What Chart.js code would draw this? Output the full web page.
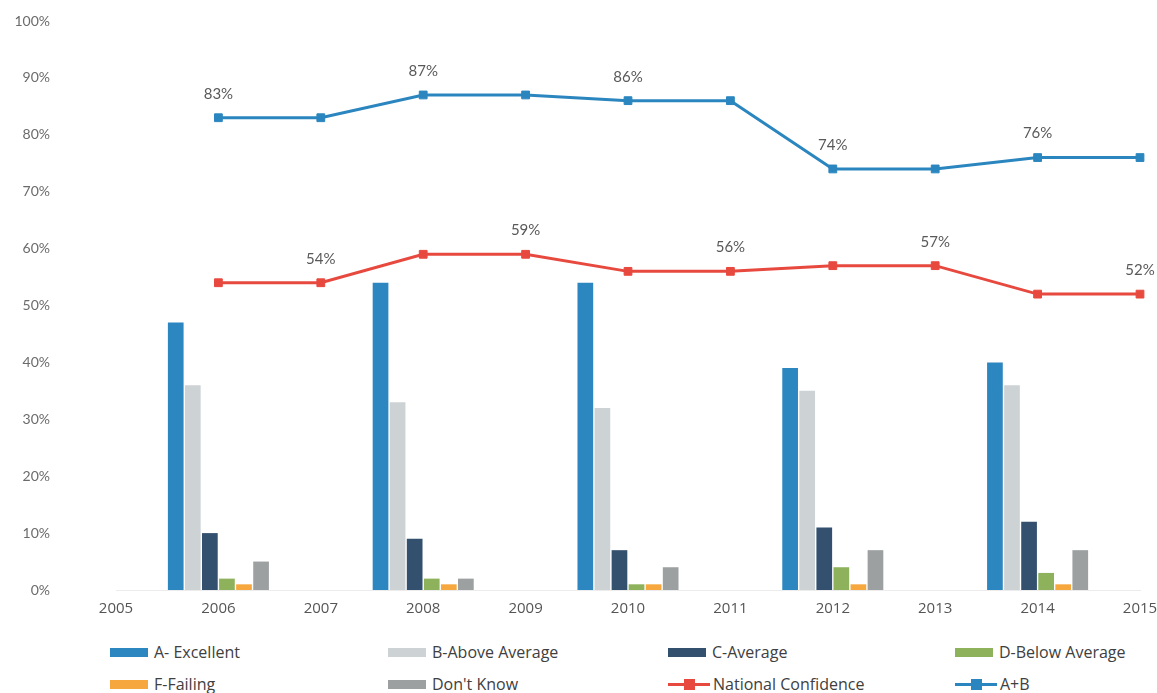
<!DOCTYPE html>
<html>
<head>
<meta charset="utf-8">
<script src="https://cdn.jsdelivr.net/npm/chart.js@4.4.1/dist/chart.umd.min.js"></script>
<style>
  html, body { margin: 0; padding: 0; background: #fff; }
  #wrap { position: relative; width: 1157px; height: 693px; }
  #chart { position: absolute; left: 0; top: 0; }
  #legend { position: absolute; left: 110px; top: 640px; font-family: "Open Sans", Lato, sans-serif; font-size: 16px; color: #404040; }
  .item { position: absolute; white-space: nowrap; height: 20px; line-height: 20px; }
  .box { display: inline-block; width: 38px; height: 9px; vertical-align: middle; margin-right: 6px; margin-top: -3px; }
  .ln { display: inline-block; position: relative; width: 42px; height: 20px; vertical-align: middle; margin-right: 3px; margin-top: -3px; }
  .ln i { position: absolute; left: 0; right: 0; top: 9px; height: 3px; }
  .ln b { position: absolute; left: 16px; top: 5px; width: 11px; height: 11px; }
</style>
</head>
<body>
<div id="wrap">
  <canvas id="chart" width="1157" height="630"></canvas>
  <div id="legend"></div>
</div>
<script>
// du lieu
var years = ['2005', '2006', '2007', '2008', '2009', '2010', '2011', '2012', '2013', '2014', '2015'];
var excellent    = [null, 47, null, 54, null, 54, null, 39, null, 40, null];
var aboveAverage = [null, 36, null, 33, null, 32, null, 35, null, 36, null];
var average      = [null, 10, null, 9, null, 7, null, 11, null, 12, null];
var belowAverage = [null, 2, null, 2, null, 1, null, 4, null, 3, null];
var failing      = [null, 1, null, 1, null, 1, null, 1, null, 1, null];
var dontKnow     = [null, 5, null, 2, null, 4, null, 7, null, 7, null];
var nationalConfidence = [null, 54, 54, 59, 59, 56, 56, 57, 57, 52, 52];
var aPlusB             = [null, 83, 83, 87, 87, 86, 86, 74, 74, 76, 76];
// nhan hien thi tren cac diem
var ncLabelAt = [2, 4, 6, 8, 10];
var abLabelAt = [1, 3, 5, 7, 9];
var yTicks = [0, 10, 20, 30, 40, 50, 60, 70, 80, 90, 100];

var blue = '#2b86bf';
var red = '#e8493f';

function bar(label, data, color) {
    return { type: 'bar', label: label, data: data, backgroundColor: color,
             categoryPercentage: 1.0, barPercentage: 0.92, order: 2 };
}
function line(label, data, color, labelAt) {
    return { type: 'line', label: label, data: data, borderColor: color, backgroundColor: color,
             borderWidth: 3, pointStyle: 'rect', pointRadius: 5.5, pointBorderWidth: 1,
             pointBorderColor: color, tension: 0, order: 1, labelAt: labelAt };
}

var datasets = [
    bar('A- Excellent', excellent, '#2c86c0'),
    bar('B-Above Average', aboveAverage, '#cdd2d5'),
    bar('C-Average', average, '#33506f'),
    bar('D-Below Average', belowAverage, '#8db25b'),
    bar('F-Failing', failing, '#f6a83f'),
    bar("Don't Know", dontKnow, '#9ca0a1'),
    line('National Confidence', nationalConfidence, red, ncLabelAt),
    line('A+B', aPlusB, blue, abLabelAt)
];

// ve nhan phan tram phia tren diem
var pointLabels = {
    id: 'pointLabels',
    afterDatasetsDraw: function (chart) {
        var ctx = chart.ctx;
        ctx.save();
        ctx.font = '15px Lato, "Open Sans", sans-serif';
        ctx.fillStyle = '#595959';
        ctx.textAlign = 'center';
        ctx.textBaseline = 'middle';
        chart.data.datasets.forEach(function (ds, di) {
            if (!ds.labelAt) return;
            var meta = chart.getDatasetMeta(di);
            ds.labelAt.forEach(function (i) {
                var p = meta.data[i];
                ctx.fillText(ds.data[i] + '%', p.x, p.y - 24);
            });
        });
        ctx.restore();
    }
};

var ctx = document.getElementById('chart').getContext('2d');
var chart = new Chart(ctx, {
    data: { labels: years, datasets: datasets },
    options: {
        responsive: false,
        animation: false,
        layout: { padding: { top: 21, right: 17, left: 0, bottom: 0 } },
        plugins: { legend: { display: false }, tooltip: { enabled: false } },
        scales: {
            x: {
                offset: false,
                grid: { display: false, drawTicks: false },
                border: { color: '#ececec' },
                ticks: { color: '#555', font: { family: '"Open Sans", Lato, sans-serif', size: 15 }, padding: 10, maxRotation: 0 },
                afterFit: function (s) { s.height = 40; s.paddingLeft = 0; s.paddingRight = 0; }
            },
            y: {
                min: 0, max: 100,
                afterBuildTicks: function (s) { s.ticks = yTicks.map(function (v) { return { value: v }; }); },
                grid: { display: false, drawTicks: false },
                border: { display: false },
                ticks: { color: '#6b6b6b', font: { family: 'Lato, "Open Sans", sans-serif', size: 14 }, padding: 66,
                         callback: function (v) { return v + '%'; } },
                afterFit: function (s) { s.width = 116; s.paddingTop = 0; s.paddingBottom = 0; }
            }
        }
    },
    plugins: [pointLabels]
});

// chu giai (legend) dang luoi
var cols = [0, 278, 558, 845];
var legendHtml = '';
datasets.forEach(function (ds, i) {
    var left = cols[i % 4];
    var top = i < 4 ? 2 : 34;
    var mark = ds.type === 'line'
        ? '<span class="ln"><i style="background:' + ds.borderColor + '"></i><b style="background:' + ds.borderColor + '"></b></span>'
        : '<span class="box" style="background:' + ds.backgroundColor + '"></span>';
    legendHtml += '<div class="item" style="left:' + left + 'px;top:' + top + 'px">' + mark + ds.label + '</div>';
});
document.getElementById('legend').innerHTML = legendHtml;
</script>
</body>
</html>
